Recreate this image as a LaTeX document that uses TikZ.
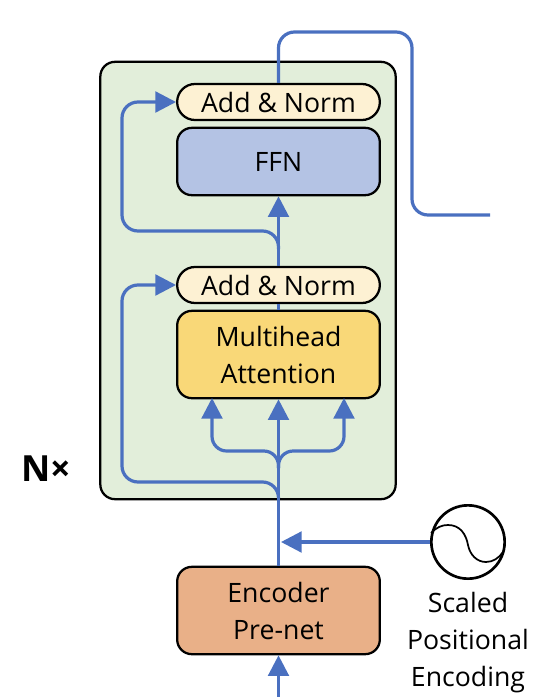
\documentclass[tikz,border=0pt]{standalone}
\usepackage{fontspec}
\setmainfont{Open Sans}
\usetikzlibrary{arrows.meta}
\definecolor{flowblue}{HTML}{4A70C0}
\definecolor{stackgreen}{HTML}{E2EEDA}
\definecolor{normcream}{HTML}{FDF1D3}
\definecolor{ffnblue}{HTML}{B4C3E4}
\definecolor{attyellow}{HTML}{F9D878}
\definecolor{preorange}{HTML}{E9B088}
\begin{document}
\begin{tikzpicture}[x=0.75pt,y=-0.75pt,
    block/.style = {draw=black,line width=1.7pt,rounded corners=11pt,minimum width=152pt,inner sep=0pt,align=center,font=\fontsize{20}{27.75}\selectfont},
    norm/.style = {block,fill=normcream,minimum height=27pt,rounded corners=13.4pt},
    flow/.style = {draw=flowblue,line width=2.4pt},
    arrow/.style = {flow,-{Triangle[length=15.5pt,width=15.5pt]}},
    label/.style = {align=center,inner sep=0pt,font=\fontsize{20}{27.75}\selectfont}]
    \useasboundingbox (0,0) rectangle (554,697);

    \node[draw=black,line width=1.7pt,fill=stackgreen,rounded corners=11pt,minimum width=221.5pt,minimum height=328pt,inner sep=0pt] (stack) at (248,280.5) {};

    \node[norm] (normtop) at (278.5,102) {Add \& Norm};
    \node[block,fill=ffnblue,minimum height=50.5pt] (ffn) at (278.5,161.5) {FFN};
    \node[norm] (normlow) at (278.5,285) {Add \& Norm};
    \node[block,fill=attyellow,minimum height=65.5pt] (att) at (278.5,354.5) {Multihead\\Attention};
    \node[block,fill=preorange,minimum height=65.5pt] (prenet) at (278.5,610.5) {Encoder\\Pre-net};

    \node[draw=black,line width=2pt,circle,minimum size=55pt,inner sep=0pt] (pos) at (468,542) {};
    \node[label,anchor=north] (poslabel) at (468,592) {Scaled\\Positional\\Encoding};
    \node[inner sep=0pt,font=\fontsize{27}{30}\bfseries\selectfont] (times) at (46,469) {N×};

    \draw[line width=1.3pt] (pos.west) ++(1,-9) .. controls (437,527) and (442,525) .. (448,525)
        .. controls (460,525) and (466,534) .. (468,545)
        .. controls (470,555) and (477,562) .. (486,562)
        .. controls (493,562) and (499,558) .. (503,552);

    % named free ends
    \coordinate (input) at (278.5,697);
    \coordinate (out) at (490,215);
    \coordinate (mergelow) at (278.5,497);
    \coordinate (mergetop) at (278.5,249);
    \coordinate (fork) at (278.5,468);
    \coordinate (posin) at (281,542);

    \draw[arrow] (input) -- (prenet.south);
    \draw[arrow] (prenet.north) -- (att.south);
    \draw[flow] (att.north) -- (normlow.south);
    \draw[arrow] (pos.west) -- (posin);
    \draw[arrow] (normlow.north) -- (ffn.south);

    \draw[arrow,rounded corners=11pt] (fork) -- (278.5,451) -- (212,451) -- (212,398);
    \draw[arrow,rounded corners=11pt] (fork) -- (278.5,451) -- (344,451) -- (344,398);
    \draw[arrow,rounded corners=12pt] (mergelow) -- (278.5,482) -- (122,482) -- (122,285) -- (normlow.west);
    \draw[arrow,rounded corners=12pt] (mergetop) -- (278.5,231) -- (122,231) -- (122,102) -- (normtop.west);
    \draw[flow,rounded corners=12pt] (normtop.north) -- (278.5,32) -- (412,32) -- (412,215) -- (out);
\end{tikzpicture}
\end{document}
